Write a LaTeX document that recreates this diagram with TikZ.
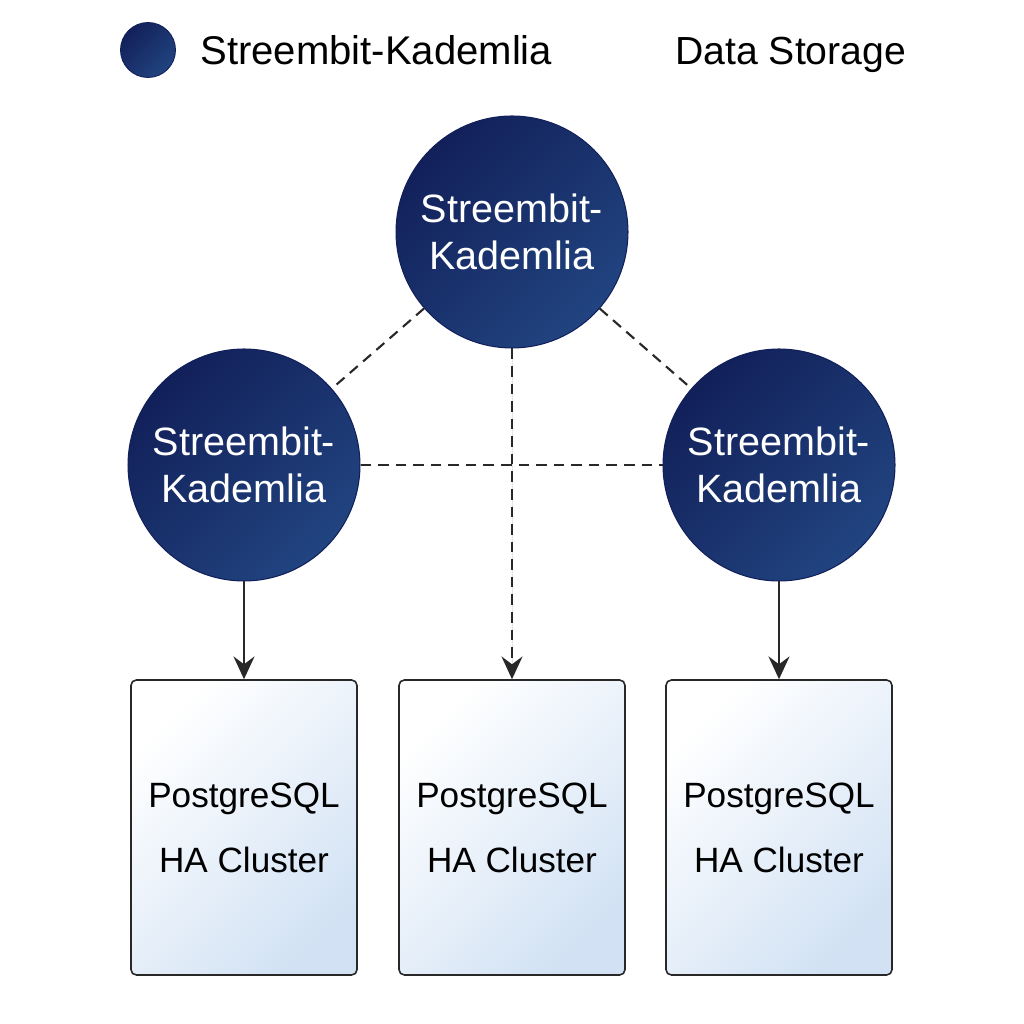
\documentclass[tikz,border=0pt]{standalone}
\usepackage{fontspec}
\setmainfont{Liberation Sans}
\usetikzlibrary{arrows.meta}
\definecolor{navydark}{RGB}{18,32,90}
\definecolor{navylight}{RGB}{33,68,128}
\definecolor{boxblue}{RGB}{210,226,244}
\definecolor{inkgray}{RGB}{40,40,40}
\begin{document}
\begin{tikzpicture}[x=0.02cm, y=0.02cm,
        kad/.style={circle, draw=navydark, line width=0.6pt, minimum size=4.64cm, inner sep=0pt,
            top color=navydark, bottom color=navylight, shading angle=45,
            text=white, align=center, font=\fontsize{22.5}{27}\selectfont},
        store/.style={draw=inkgray, line width=0.9pt, rounded corners=3pt,
            minimum width=4.52cm, minimum height=5.9cm,
            top color=white, middle color=white!85!boxblue, bottom color=boxblue, shading angle=45,
            align=center, font=\fontsize{20}{37}\selectfont},
        peer/.style={dash pattern=on 6pt off 4pt, line width=1.2pt, draw=inkgray},
        feed/.style={-{Stealth[length=13pt, width=12pt, inset=4.5pt]}, line width=1.2pt, draw=inkgray, fill=inkgray}]
    \useasboundingbox (0,0) rectangle (1024,1024);
    % legend
    \node [circle, draw=navydark, line width=0.5pt, minimum size=1.1cm, inner sep=0pt,
        top color=navydark, bottom color=navylight, shading angle=45] (keyKad) at (148, 974) {};
    \node [anchor=base west, inner sep=0pt, font=\fontsize{22.8}{26}\selectfont] (keyKadText) at (200, 959) {Streembit-Kademlia};
    \node [anchor=base west, inner sep=0pt, font=\fontsize{22.3}{26}\selectfont] (keyData) at (675, 959) {Data Storage};
    % kademlia peers
    \node [kad] (kadTop) at (512, 792) {Streembit-\\Kademlia};
    \node [kad] (kadLeft) at (244, 559) {Streembit-\\Kademlia};
    \node [kad] (kadRight) at (779, 559) {Streembit-\\Kademlia};
    % storage
    \node [store] (pgLeft) at (244, 196.5) {PostgreSQL\\HA Cluster};
    \node [store] (pgMid) at (512, 196.5) {PostgreSQL\\HA Cluster};
    \node [store] (pgRight) at (779, 196.5) {PostgreSQL\\HA Cluster};
    % links
    \draw [peer] (kadTop) -- (kadLeft);
    \draw [peer] (kadTop) -- (kadRight);
    \draw [peer] (kadLeft) -- (kadRight);
    \draw [feed, peer] (kadTop) -- (pgMid);
    \draw [feed] (kadLeft) -- (pgLeft);
    \draw [feed] (kadRight) -- (pgRight);
\end{tikzpicture}
\end{document}
